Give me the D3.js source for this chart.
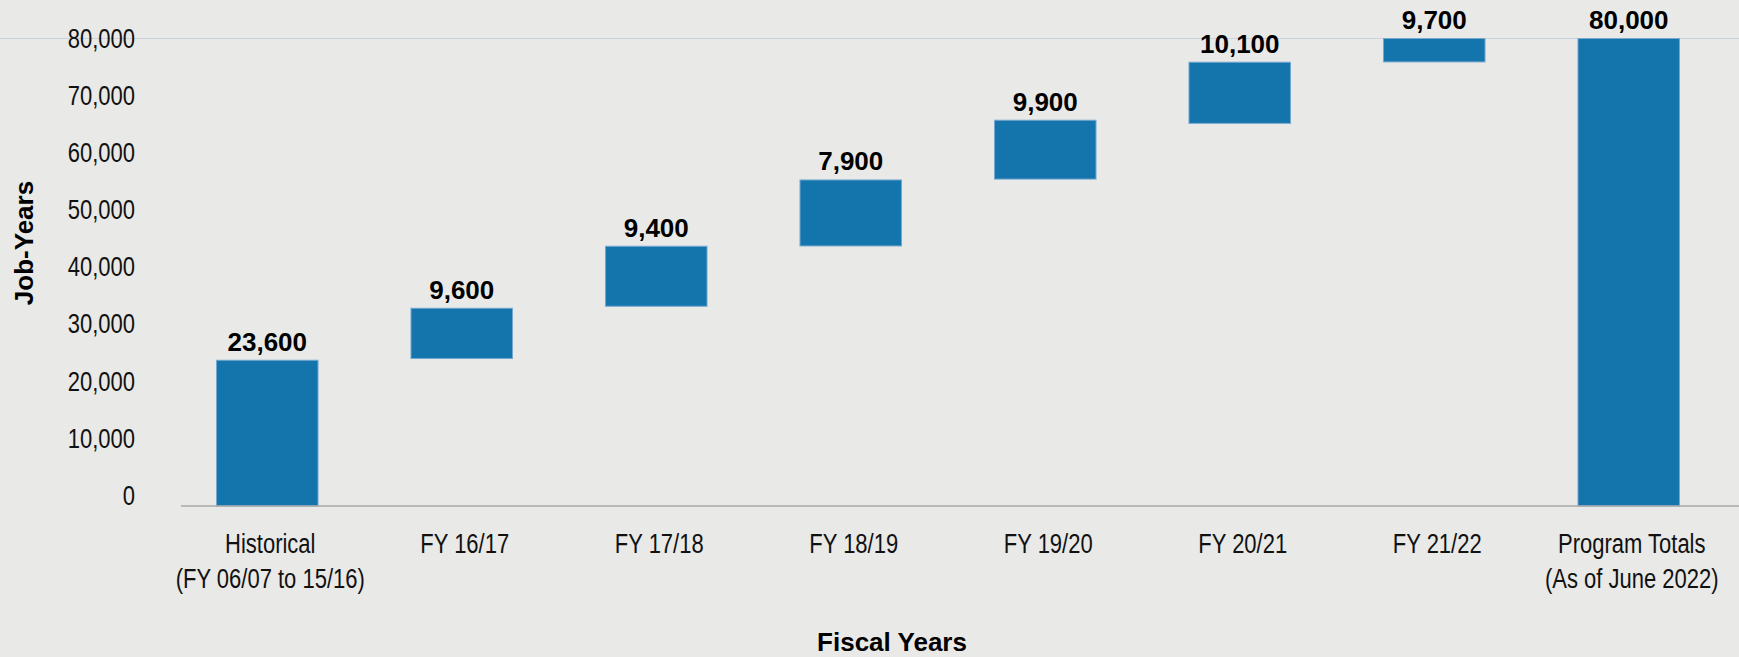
<!DOCTYPE html>
<html lang="en">
<head>
  <meta charset="UTF-8">
  <title>Job-Years by Fiscal Year</title>
  <script src="https://d3js.org/d3.v7.min.js"></script>
  <style>
    body {
      margin: 0;
      background: #e9e9e7;
    }
    .narrow {
      font-family: "Liberation Sans", Arial, sans-serif;
      font-size: 27px;
      fill: #111;
    }
    .bold {
      font-family: "Liberation Sans", Arial, sans-serif;
      font-weight: bold;
      font-size: 26px;
      fill: #000;
    }
  </style>
</head>
<body>
  <svg id="chart" width="1739" height="657"></svg>

  <script>
    // categories and values
    const categories = [
      "Historical\n(FY 06/07 to 15/16)",
      "FY 16/17",
      "FY 17/18",
      "FY 18/19",
      "FY 19/20",
      "FY 20/21",
      "FY 21/22",
      "Program Totals\n(As of June 2022)"
    ];
    const valueLabels = [23600, 9600, 9400, 7900, 9900, 10100, 9700, 80000];

    // the baseline in the picture sits a little under zero
    const axisFloor = -1800;
    // bar extents as drawn in the picture
    const barLow  = [axisFloor, 24000, 33150, 43700, 55400, 65150, 75900, axisFloor];
    const barHigh = [23700, 32800, 43650, 55250, 65700, 75850, 80000, 80000];

    const yTicks = [0, 10000, 20000, 30000, 40000, 50000, 60000, 70000, 80000];

    const width = 1739;
    const height = 657;
    const squeeze = 0.815; // no narrow font installed, so squeeze the regular one

    const svg = d3.select("#chart");

    const x = d3.scaleBand()
      .domain(categories)
      .range([170, 1726])
      .paddingInner(0.478)
      .paddingOuter(0.239);

    const y = d3.scaleLinear()
      .domain([axisFloor, 80000])
      .range([506, 38.5]);

    // top gridline runs across the whole picture
    svg.append("line")
      .attr("x1", 0)
      .attr("x2", width)
      .attr("y1", y(80000))
      .attr("y2", y(80000))
      .attr("stroke", "#cbd2e2")
      .attr("stroke-width", 1.2);

    // y axis labels
    const yAxis = svg.append("g")
      .attr("transform", "translate(181,0)")
      .call(d3.axisLeft(y)
        .tickValues(yTicks)
        .tickFormat(d3.format(","))
        .tickSize(0)
        .tickPadding(46));
    yAxis.select(".domain").remove();
    yAxis.selectAll("text")
      .attr("class", "narrow")
      .attr("font-family", null)
      .attr("font-size", null)
      .attr("fill", null)
      .attr("x", -46 / squeeze)
      .attr("transform", `scale(${squeeze},1)`);

    // bars
    svg.selectAll(".bar")
      .data(categories)
      .enter()
      .append("rect")
      .attr("class", "bar")
      .attr("x", d => x(d))
      .attr("width", x.bandwidth())
      .attr("y", (d, i) => y(barHigh[i]))
      .attr("height", (d, i) => y(barLow[i]) - y(barHigh[i]))
      .attr("fill", "#1475ad")
      .attr("stroke", "#76a8d0")
      .attr("stroke-width", 1);

    // baseline
    svg.append("line")
      .attr("x1", 181)
      .attr("x2", width)
      .attr("y1", y(axisFloor))
      .attr("y2", y(axisFloor))
      .attr("stroke", "#a8a8a8")
      .attr("stroke-width", 1.5);

    // value labels
    svg.selectAll(".value")
      .data(categories)
      .enter()
      .append("text")
      .attr("class", "bold")
      .attr("x", d => x(d) + x.bandwidth() / 2)
      .attr("y", (d, i) => y(barHigh[i]) - 9.5)
      .attr("text-anchor", "middle")
      .text((d, i) => d3.format(",")(valueLabels[i]));

    // category labels, one text per line
    const lines = [];
    categories.forEach(c => {
      c.split("\n").forEach((t, j) => lines.push({ cat: c, text: t, row: j }));
    });

    svg.selectAll(".cat")
      .data(lines)
      .enter()
      .append("text")
      .attr("class", "narrow")
      .attr("text-anchor", "middle")
      .attr("transform", d =>
        `translate(${x(d.cat) + x.bandwidth() / 2 + 3},${553 + d.row * 34.5}) scale(${squeeze},1)`)
      .text(d => d.text);

    // axis titles
    svg.append("text")
      .attr("class", "bold")
      .attr("text-anchor", "middle")
      .attr("x", 892)
      .attr("y", 651)
      .text("Fiscal Years");

    svg.append("text")
      .attr("class", "bold")
      .attr("text-anchor", "middle")
      .attr("transform", "translate(33,243) rotate(-90)")
      .text("Job-Years");
  </script>
</body>
</html>
